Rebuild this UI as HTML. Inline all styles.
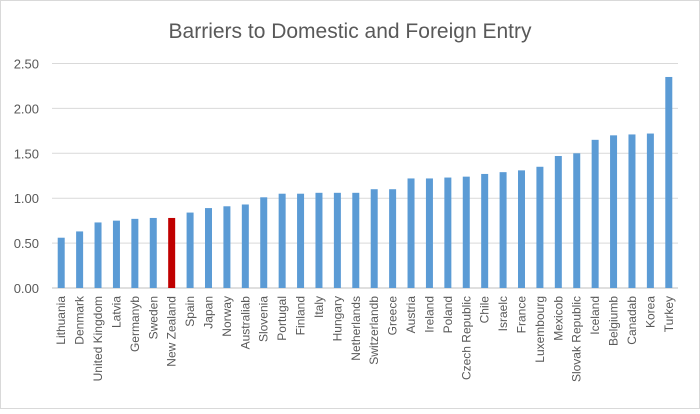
<!DOCTYPE html>
<html><head><style>
body{margin:0;background:#fff}
svg{font-family:"Liberation Sans",sans-serif}
</style></head><body>
<svg width="700" height="409">
<rect x="0.5" y="0.5" width="699" height="408" fill="#fff" stroke="#d9d9d9"/>
<text x="350" y="38" text-anchor="middle" font-size="21" fill="#595959">Barriers to Domestic and Foreign Entry</text>
<g id="grid"></g><g id="bars"></g><g id="labels"></g>
</svg>
<script>
const categories=["Lithuania","Denmark","United Kingdom","Latvia","Germanyb","Sweden","New Zealand","Spain","Japan","Norway","Australiab","Slovenia","Portugal","Finland","Italy","Hungary","Netherlands","Switzerlandb","Greece","Austria","Ireland","Poland","Czech Republic","Chile","Israelc","France","Luxembourg","Mexicob","Slovak Republic","Iceland","Belgiumb","Canadab","Korea","Turkey"];
const values=[0.56,0.63,0.73,0.75,0.77,0.78,0.78,0.84,0.89,0.91,0.93,1.01,1.05,1.05,1.06,1.06,1.06,1.10,1.10,1.22,1.22,1.23,1.24,1.27,1.29,1.31,1.35,1.47,1.50,1.65,1.70,1.71,1.72,2.35];
const ticks=[0,0.5,1,1.5,2,2.5];
const highlight="New Zealand";
const NS="http://www.w3.org/2000/svg";
const x0=52,x1=678,y0=288,yTop=63.5,maxV=2.5;
const step=(x1-x0)/categories.length;
const y=v=>y0-(v/maxV)*(y0-yTop);
const xc=i=>x0+step*(i+0.5);
function mk(t,a,p){const e=document.createElementNS(NS,t);for(const k in a)e.setAttribute(k,a[k]);p.appendChild(e);return e;}
const g=document.getElementById('grid'),b=document.getElementById('bars'),l=document.getElementById('labels');
ticks.forEach(t=>{
 const ln=mk('line',{x1:x0,x2:x1,y1:y(t),y2:y(t),stroke:t===0?'#bfbfbf':'#d9d9d9','stroke-width':1},g);
 
 
 const tx=mk('text',{x:39,y:y(t)+5,'text-anchor':'end','font-size':13,fill:'#595959'},g);
 tx.textContent=t.toFixed(2);
 
 
});
categories.forEach((c,i)=>{
 const r=mk('rect',{x:xc(i)-3.5,y:y(values[i]),width:7,height:y0-y(values[i]),fill:c===highlight?'#c00000':'#5b9bd5'},b);
 
 
 const tx=mk('text',{x:0,y:0,'text-anchor':'end','font-size':12,fill:'#595959',transform:`translate(${xc(i)+4},296) rotate(-90)`},l);
 tx.textContent=c;
 
 
});
</script>
</body></html>
